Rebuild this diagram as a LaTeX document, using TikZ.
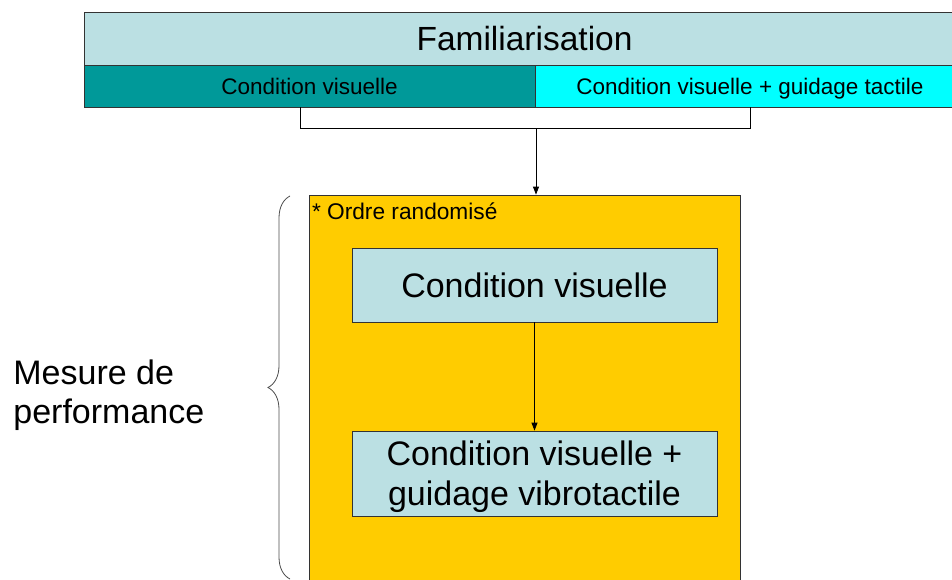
\documentclass[tikz,border=0pt]{standalone}
\usepackage{fontspec}
\setmainfont{Liberation Sans}
\usetikzlibrary{arrows.meta,decorations.pathreplacing}

\definecolor{palecyan}{HTML}{BBE0E3}
\definecolor{darkteal}{HTML}{009999}
\definecolor{brightcyan}{HTML}{00FFFF}
\definecolor{gold}{HTML}{FFCC00}

\begin{document}
\begin{tikzpicture}[x=1pt,y=-1pt,line width=0.8pt,
  cell/.style={draw=black!80,inner sep=0pt,align=center},
  phase/.style={cell,fill=palecyan,font=\fontsize{33.5}{40}\selectfont},
  cond/.style={cell,text height=20pt,text depth=4pt,font=\fontsize{22.5}{27}\selectfont},
  trial/.style={cell,fill=palecyan,font=\fontsize{34}{40}\selectfont},
  flow/.style={-{Triangle[length=8pt,width=6pt]}}
]
  \useasboundingbox (0,0) rectangle (952,579);
  \clip (0,0) rectangle (952,579);

  % Familiarisation phase
  \node[phase,minimum width=881pt,minimum height=53pt] (fam) at (524.5,38.5) {Familiarisation};
  \node[cond,fill=darkteal,minimum width=451pt,minimum height=42pt] (famvis) at (309.5,86) {Condition visuelle};
  \node[cond,fill=brightcyan,minimum width=430pt,minimum height=42pt] (famtact) at (750,86) {Condition visuelle + guidage tactile};

  % Test block
  \node[cell,fill=gold,minimum width=431pt,minimum height=440pt] (rand) at (524.5,415) {};
  \node[anchor=north west,inner sep=0pt,font=\fontsize{22.7}{27}\selectfont] (order) at ([xshift=3pt,yshift=-8pt]rand.north west) {* Ordre randomisé};
  \node[trial,minimum width=365pt,minimum height=74pt] (vis) at (534.5,285) {Condition visuelle};
  \node[trial,text depth=0pt,minimum width=365pt,minimum height=85pt] (visvib) at (534.5,473.5) {Condition visuelle +\\guidage vibrotactile};

  % Join of the two familiarisation conditions
  \coordinate (jl) at (300,107);
  \coordinate (jr) at (750,107);
  \coordinate (join) at (536,128);
  \draw (jl) -- (jl |- join) -- (jr |- join) -- (jr);
  \draw[flow] (join) -- (join |- rand.north);
  \draw[flow] (vis) -- (visvib);

  % Brace and label
  \draw[black!70,decorate,decoration={brace,amplitude=22pt}] (290,579) -- (290,196);
  \node[anchor=west,align=left,inner sep=0pt,font=\fontsize{34}{39}\selectfont] (mesure) at (13,395) {Mesure de\\performance};
\end{tikzpicture}
\end{document}
